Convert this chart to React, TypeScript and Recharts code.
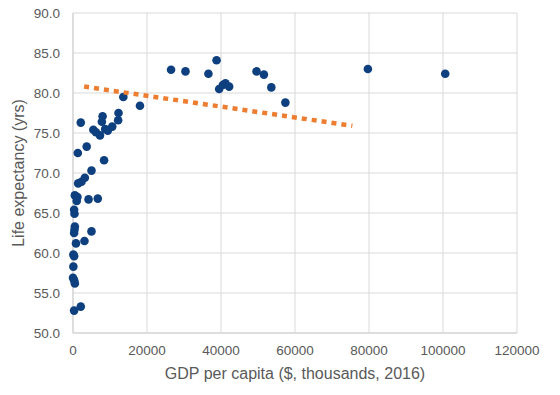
import React from 'react';
import { ScatterChart, Scatter, XAxis, YAxis, CartesianGrid } from 'recharts';

const gdp = [
  26500, 30400, 36600, 38800, 39500, 40500, 41200, 42200, 49600, 51600, 53600, 57400, 79700, 100600,
  13600, 18100, 2100, 8000, 12300, 7800, 12200, 5500, 6200, 7300, 8700, 9400, 10600,
  1300, 3700, 8400, 5000, 3200, 2300, 1400, 500, 1200, 1000, 4200, 6700,
  300, 400, 500, 400, 300, 5000, 3100, 800, 100, 300, 100, 0, 300, 500, 2100, 300,
];
const lifeExp = [
  82.9, 82.7, 82.4, 84.1, 80.5, 81.0, 81.2, 80.8, 82.7, 82.3, 80.7, 78.8, 83.0, 82.4,
  79.5, 78.4, 76.3, 77.1, 77.5, 76.4, 76.6, 75.4, 75.1, 74.7, 75.5, 75.3, 75.8,
  72.5, 73.3, 71.6, 70.3, 69.4, 68.9, 68.7, 67.2, 67.0, 66.5, 66.7, 66.8,
  65.4, 64.9, 63.3, 62.9, 62.5, 62.7, 61.5, 61.2, 59.8, 59.6, 58.3, 56.9, 56.6, 56.2, 53.3, 52.8,
];
const trendX = [3000, 75500];
const trendY = [80.8, 75.9];
const xTicks = [0, 20000, 40000, 60000, 80000, 100000, 120000];
const yTicks = [50, 55, 60, 65, 70, 75, 80, 85, 90];

const points = gdp.map((x, i) => ({ x, y: lifeExp[i] }));
const trend = trendX.map((x, i) => ({ x, y: trendY[i] }));

const FONT = '"Liberation Sans", Arial, sans-serif';
const TEXT = '#595959';

const Dot = (p: any) => <circle cx={p.cx} cy={p.cy} r={4.3} fill="#0E3F7E" />;
const NoDot = () => <g />;

export default function App() {
  return (
    <div style={{ position: 'absolute', left: 0, top: 0 }}>
      <ScatterChart width={560} height={395} margin={{ top: 13, right: 43, bottom: 17, left: 0 }}>
        <CartesianGrid stroke="#d9d9d9" strokeWidth={1} />
        <XAxis
          type="number"
          dataKey="x"
          domain={[0, 120000]}
          ticks={xTicks}
          height={45}
          axisLine={{ stroke: '#cfcfcf' }}
          tickLine={false}
          tickSize={0}
          tickMargin={12}
          tick={{ fill: TEXT, fontSize: 13.5, fontFamily: FONT }}
          label={{
            content: (props: any) => {
              const vb = props.viewBox;
              return (
                <text x={vb.x + vb.width / 2} y={373} textAnchor="middle" dominantBaseline="central"
                  fill={TEXT} fontSize={16} fontFamily={FONT}>
                  GDP per capita ($, thousands, 2016)
                </text>
              );
            },
          }}
        />
        <YAxis
          type="number"
          dataKey="y"
          domain={[50, 90]}
          ticks={yTicks}
          width={73}
          axisLine={{ stroke: '#cfcfcf' }}
          tickLine={false}
          tickSize={0}
          tickMargin={13}
          tickFormatter={(v: number) => v.toFixed(1)}
          tick={{ fill: TEXT, fontSize: 13.5, fontFamily: FONT }}
          label={{
            content: (props: any) => {
              const vb = props.viewBox;
              const cy = vb.y + vb.height / 2;
              return (
                <text x={18} y={cy} textAnchor="middle" dominantBaseline="central"
                  transform={`rotate(-90, 18, ${cy})`}
                  fill={TEXT} fontSize={16} fontFamily={FONT}>
                  Life expectancy (yrs)
                </text>
              );
            },
          }}
        />
        <Scatter data={points} shape={Dot} isAnimationActive={false} />
        <Scatter
          data={trend}
          shape={NoDot}
          line={{ stroke: '#ED7D31', strokeWidth: 4.5, strokeDasharray: '5 5' }}
          isAnimationActive={false}
        />
      </ScatterChart>
    </div>
  );
}
